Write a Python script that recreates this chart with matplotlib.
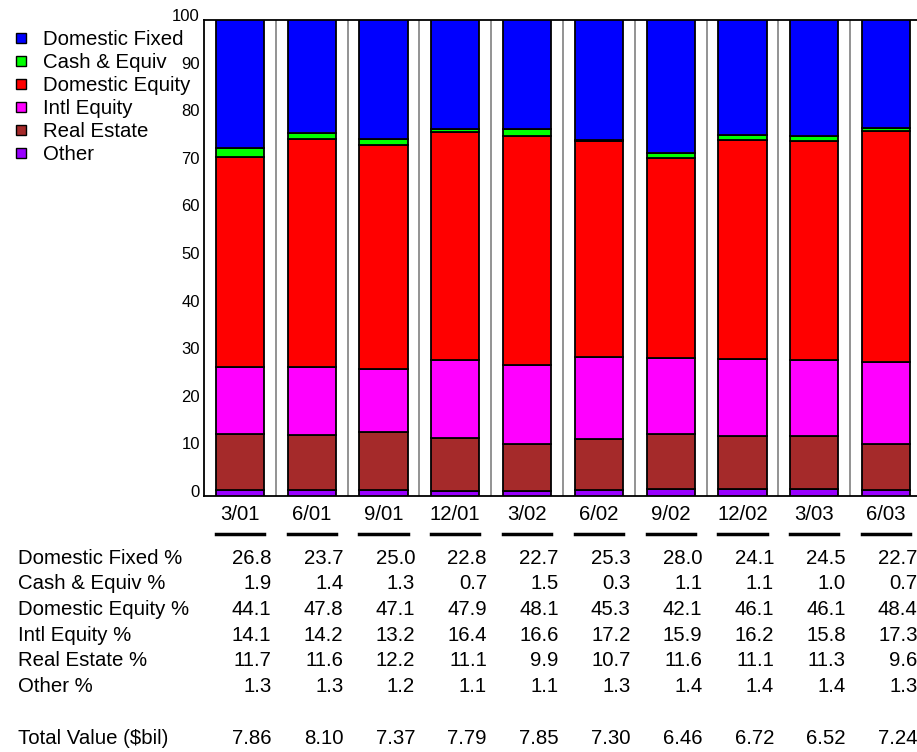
import matplotlib
matplotlib.use("Agg")
import matplotlib.pyplot as plt
import matplotlib.transforms as mtransforms
from matplotlib.lines import Line2D
import numpy as np

plt.rcParams['font.family'] = ['Liberation Sans', 'DejaVu Sans']

# === DATA ===
quarters = ['3/01', '6/01', '9/01', '12/01', '3/02', '6/02', '9/02', '12/02', '3/03', '6/03']
dom_fixed = [26.8, 23.7, 25.0, 22.8, 22.7, 25.3, 28.0, 24.1, 24.5, 22.7]
cash = [1.9, 1.4, 1.3, 0.7, 1.5, 0.3, 1.1, 1.1, 1.0, 0.7]
dom_equity = [44.1, 47.8, 47.1, 47.9, 48.1, 45.3, 42.1, 46.1, 46.1, 48.4]
intl_equity = [14.1, 14.2, 13.2, 16.4, 16.6, 17.2, 15.9, 16.2, 15.8, 17.3]
real_estate = [11.7, 11.6, 12.2, 11.1, 9.9, 10.7, 11.6, 11.1, 11.3, 9.6]
other = [1.3, 1.3, 1.2, 1.1, 1.1, 1.3, 1.4, 1.4, 1.4, 1.3]
total_value = [7.86, 8.10, 7.37, 7.79, 7.85, 7.30, 6.46, 6.72, 6.52, 7.24]

# stacking order bottom -> top
series = [
    ('Other', other, '#9900ff'),
    ('Real Estate', real_estate, '#a52a2a'),
    ('Intl Equity', intl_equity, '#ff00ff'),
    ('Domestic Equity', dom_equity, '#ff0000'),
    ('Cash & Equiv', cash, '#00ff00'),
    ('Domestic Fixed', dom_fixed, '#0000ff'),
]

# table rows (top -> bottom)
table_rows = [
    ('Domestic Fixed %', dom_fixed),
    ('Cash & Equiv %', cash),
    ('Domestic Equity %', dom_equity),
    ('Intl Equity %', intl_equity),
    ('Real Estate %', real_estate),
    ('Other %', other),
]

W, H = 917, 752
FS = 14.7

fig = plt.figure(figsize=(W / 100, H / 100), dpi=100)
ax = fig.add_axes([204 / W, 1 - 496 / H, 718 / W, 476 / H])

x = np.arange(len(quarters))
bottom = np.zeros(len(quarters))
colors = {}
for name, vals, color in series:
    ax.bar(x, vals, width=0.67, bottom=bottom, color=color,
           edgecolor='black', linewidth=1.3, zorder=3)
    colors[name] = color
    bottom += np.array(vals)

# slot separators
for k in range(len(quarters)):
    ax.axvline(k + 0.5, color='#808080', lw=1.2, zorder=1)

ax.set_xlim(-0.5, len(quarters) - 0.5)
ax.set_ylim(0, 100)
ax.set_xticks([])
ax.set_yticks(np.arange(0, 101, 10))
ax.tick_params(axis='y', length=0, pad=3, labelsize=12)
shift = mtransforms.ScaledTranslation(0, 5 / 100, fig.dpi_scale_trans)
for lab in ax.get_yticklabels():
    lab.set_transform(lab.get_transform() + shift)
for sp in ax.spines.values():
    sp.set_color('black')
    sp.set_linewidth(1.3)

# category labels with underlines, and data table below
trans = mtransforms.blended_transform_factory(ax.transData, fig.transFigure)
for i, q in enumerate(quarters):
    ax.text(i, 1 - 515 / H, q, transform=trans, ha='center', va='center',
            fontsize=FS, clip_on=False)
    ax.add_line(Line2D([i - 0.335, i + 0.335], [1 - 534 / H, 1 - 534 / H],
                       transform=trans, color='black', lw=2.5, clip_on=False))

row_y = [558, 583.7, 609.4, 635.1, 660.8, 686.5]
for (label, vals), py in zip(table_rows, row_y):
    fig.text(18 / W, 1 - py / H, label, ha='left', va='center', fontsize=FS)
    for i, v in enumerate(vals):
        ax.text(i + 0.44, 1 - py / H, f'{v:.1f}', transform=trans,
                ha='right', va='center', fontsize=FS, clip_on=False)

fig.text(18 / W, 1 - 738 / H, 'Total Value ($bil)', ha='left', va='center', fontsize=FS)
for i, v in enumerate(total_value):
    ax.text(i + 0.44, 1 - 738 / H, f'{v:.2f}', transform=trans,
            ha='right', va='center', fontsize=FS, clip_on=False)

# legend
leg_names = ['Domestic Fixed', 'Cash & Equiv', 'Domestic Equity',
             'Intl Equity', 'Real Estate', 'Other']
leg_handles = [Line2D([], [], marker='s', linestyle='none', markersize=6.5,
                      markerfacecolor=colors[n], markeredgecolor='black',
                      markeredgewidth=1) for n in leg_names]
fig.legend(leg_handles, leg_names, loc='upper left',
           bbox_to_anchor=(13 / W, 1 - 30 / H), frameon=False,
           fontsize=FS, handlelength=0.8, handletextpad=0.65,
           labelspacing=0.2, borderaxespad=0, borderpad=0)

fig.savefig('out.png', dpi=100)
